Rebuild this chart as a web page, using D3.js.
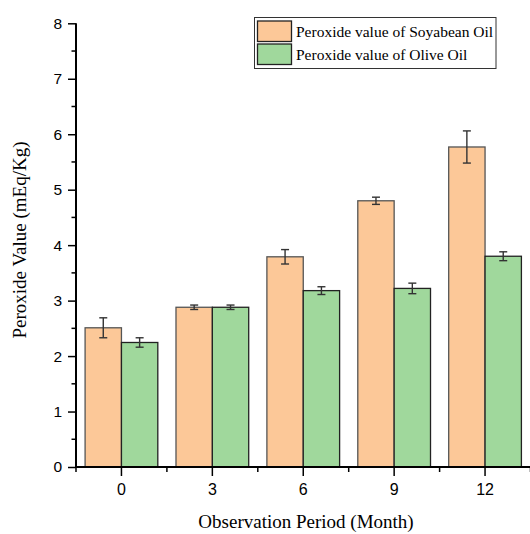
<!DOCTYPE html>
<html><head><meta charset="utf-8">
<script src="https://cdn.jsdelivr.net/npm/d3@7"></script>
<style>body{margin:0;background:#fff}svg{display:block}</style>
</head><body>
<script>
const categories = ["0","3","6","9","12"];
const soyValues = [2.51, 2.88, 3.79, 4.80, 5.77];
const soyErrors = [0.18, 0.04, 0.13, 0.065, 0.29];
const oliveValues = [2.245, 2.88, 3.18, 3.22, 3.80];
const oliveErrors = [0.085, 0.04, 0.07, 0.095, 0.08];
const seriesNames = ["Peroxide value of Soyabean Oil", "Peroxide value of Olive Oil"];
const seriesColors = ["#fcc898", "#a0d89c"];
const yTicks = [0,1,2,3,4,5,6,7,8];

(function(){
const W = 530, H = 534;
const SERIF = "'Liberation Serif', 'Times New Roman', Times, serif";
const SANS = "'Liberation Sans', Arial, Helvetica, sans-serif";
const svg = d3.select("body").append("svg").attr("width", W).attr("height", H);
const mLeft = 76, mRight = 530.5, mTop = 23.3, mBottom = 467;

const x = d3.scaleBand().domain(categories).range([mLeft, mRight]).paddingInner(0.2).paddingOuter(0.1);
const xs = d3.scaleBand().domain([0,1]).range([0, x.bandwidth()]);
const y = d3.scaleLinear().domain([0, 8]).range([mBottom, mTop]);

const series = [
  {name: seriesNames[0], color: seriesColors[0], values: soyValues, errors: soyErrors, stroke:"#555"},
  {name: seriesNames[1], color: seriesColors[1], values: oliveValues, errors: oliveErrors, stroke:"#222"}
];

series.forEach((s, si) => {
  const g = svg.append("g");
  g.selectAll("rect").data(categories).join("rect")
    .attr("x", c => x(c) + xs(si))
    .attr("y", (c,i) => y(s.values[i]))
    .attr("width", xs.bandwidth())
    .attr("height", (c,i) => mBottom - y(s.values[i]))
    .attr("fill", s.color).attr("stroke", s.stroke).attr("stroke-width", 1.3);
});
series.forEach((s, si) => {
  const g = svg.append("g").attr("stroke", "#333").attr("stroke-width", 1.4);
  categories.forEach((c, i) => {
    const cx = x(c) + xs(si) + xs.bandwidth()/2;
    const y1 = y(s.values[i] + s.errors[i]), y2 = y(s.values[i] - s.errors[i]);
    g.append("line").attr("x1", cx).attr("x2", cx).attr("y1", y1).attr("y2", y2);
    g.append("line").attr("x1", cx-4).attr("x2", cx+4).attr("y1", y1).attr("y2", y1);
    g.append("line").attr("x1", cx-4).attr("x2", cx+4).attr("y1", y2).attr("y2", y2);
  });
});

// Y axis
const yAxis = d3.axisLeft(y).tickValues(yTicks).tickFormat(d3.format("d")).tickSize(8).tickPadding(6);
const gy = svg.append("g").attr("transform", `translate(${mLeft},0)`).call(yAxis);
gy.attr("font-family", SANS).attr("font-size", 15);
gy.select(".domain").attr("stroke-width", 2).attr("d", `M0,${mBottom}V${mTop}`);
gy.selectAll(".tick line").attr("stroke-width", 1.5);
gy.selectAll("text").attr("x", -14).attr("text-anchor", "end")
  .style("font-family", SANS).style("font-size", "15.5px").attr("fill", "#000");
const yMinor = yTicks.slice(0,-1).map(d => d + 0.5);
svg.append("g").selectAll("line").data(yMinor).join("line")
  .attr("x1", mLeft-4.5).attr("x2", mLeft).attr("y1", d => y(d)).attr("y2", d => y(d))
  .attr("stroke", "#000").attr("stroke-width", 1.5);

// X axis
const xAxis = d3.axisBottom(x).tickSize(9).tickPadding(8);
const gx = svg.append("g").attr("transform", `translate(0,${mBottom})`).call(xAxis);
gx.attr("font-family", SANS).attr("font-size", 16);
gx.select(".domain").attr("stroke-width", 2).attr("d", `M${mLeft-1},0H${W}`);
gx.selectAll(".tick line").attr("stroke-width", 1.5);
gx.selectAll("text").attr("text-anchor", "middle")
  .style("font-family", SANS).style("font-size", "16px").attr("fill", "#000");
const step = x.step();
const xMinor = categories.map(c => x(c) + x.bandwidth()/2 - step/2);
xMinor.push(x(categories[categories.length-1]) + x.bandwidth()/2 + step/2);
svg.append("g").selectAll("line").data(xMinor).join("line")
  .attr("x1", d => d).attr("x2", d => d).attr("y1", mBottom).attr("y2", mBottom+5)
  .attr("stroke", "#000").attr("stroke-width", 1.5);

// Titles
svg.append("text").attr("x", 306).attr("y", 528)
  .attr("text-anchor", "middle").style("font-family", SERIF)
  .style("font-size", "19px").text("Observation Period (Month)");
svg.append("text").attr("transform", `translate(26,240) rotate(-90)`)
  .attr("text-anchor", "middle").style("font-family", SERIF)
  .style("font-size", "19px").text("Peroxide Value (mEq/Kg)");

// Legend
const lg = svg.append("g");
lg.append("rect").attr("x", 254.5).attr("y", 17.5).attr("width", 241.5).attr("height", 51)
  .attr("fill", "#fff").attr("stroke", "#333").attr("stroke-width", 1);
series.forEach((s, si) => {
  const yy = 21 + si*23;
  lg.append("rect").attr("x", 257.5).attr("y", yy).attr("width", 34).attr("height", 20.5)
    .attr("fill", s.color).attr("stroke", "#222").attr("stroke-width", 1.3);
  lg.append("text").attr("x", 296).attr("y", yy + 15.5)
    .style("font-family", SERIF).style("font-size", "15.5px")
    .text(s.name);
});
})();
</script>
</body></html>
